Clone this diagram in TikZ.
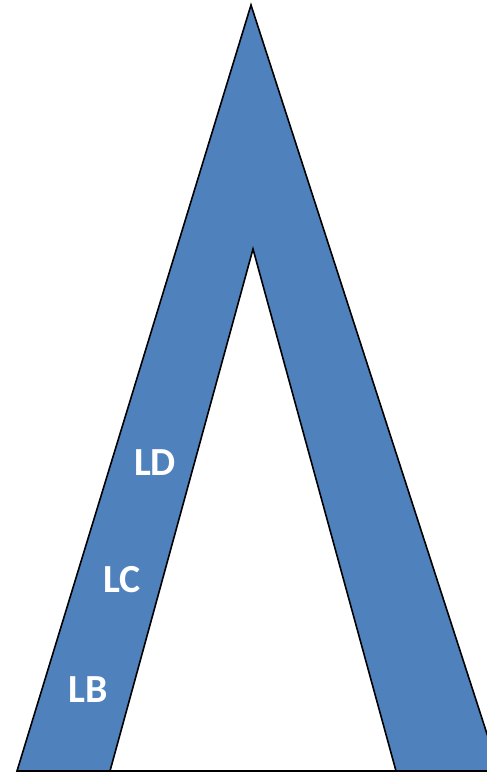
\documentclass[tikz,border=0pt]{standalone}
\usepackage{fontspec}
\setmainfont{Carlito}
\usepackage{tikz}
\definecolor{armblue}{HTML}{4F81BD}
\tikzset{lbl/.style={text=white, font=\fontsize{40}{42}\selectfont\bfseries, inner sep=0}}

\begin{document}
\begin{tikzpicture}[x=1bp, y=-1bp]
\useasboundingbox (0,0) rectangle (487,774);
\clip (0,0) rectangle (487,774);
\draw[black, line width=1.6bp, fill=armblue, line join=miter] (251,5)--(17,771)--(499,771)--cycle;
\draw[black, line width=1.6bp, fill=white] (253,249)--(110,771)--(396,771)--cycle;
\node[lbl] (ld) at (155,463) {LD};
\node[lbl] (lc) at (122,580) {LC};
\node[lbl] (lb) at (88,690) {LB};
\end{tikzpicture}
\end{document}
